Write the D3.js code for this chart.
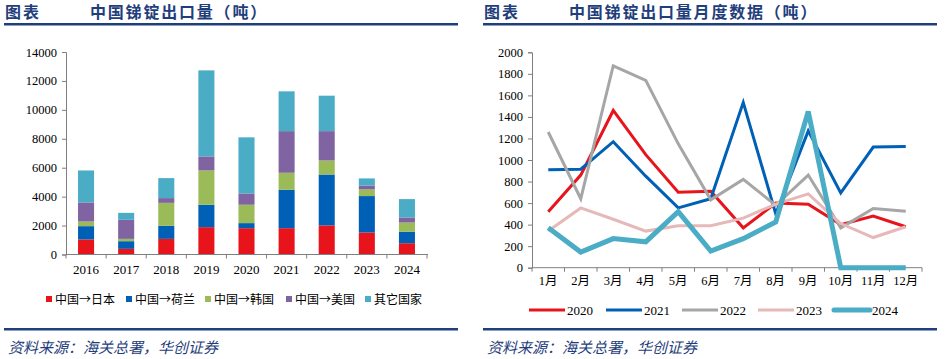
<!DOCTYPE html>
<html><head><meta charset="utf-8">
<script src="https://cdn.jsdelivr.net/npm/d3@7"></script>
<style>
body{margin:0;background:#fff;}
svg{display:block;}
</style></head>
<body>
<svg id="c" width="945" height="359"></svg>
<script>
// ---- Left chart data ----
const years = ["2016","2017","2018","2019","2020","2021","2022","2023","2024"];
const seriesNames = ["中国→日本","中国→荷兰","中国→韩国","中国→美国","其它国家"];
const japan  = [1040, 390, 1080, 1890, 1820, 1820, 2010, 1520, 780];
const nl     = [ 920, 530,  900, 1550,  350, 2650, 3520, 2520, 790];
const korea  = [ 320, 160, 1590, 2370, 1270, 1180,  970,  460, 640];
const usa    = [1320,1320,  330,  970,  780, 2880, 2030,  270, 350];
const others = [2210, 480, 1380, 5950, 3880, 2750, 2450,  490, 1270];
const barColors = ["#E8141C","#0060B6","#9BBB59","#8064A2","#4BACC6"];
const leftTicks = [0,2000,4000,6000,8000,10000,12000,14000];

// ---- Right chart data ----
const months = ["1月","2月","3月","4月","5月","6月","7月","8月","9月","10月","11月","12月"];
const lineNames = ["2020","2021","2022","2023","2024"];
const y2020 = [520, 860,1460,1050, 700, 710, 370, 600, 590, 400, 480, 380];
const y2021 = [910, 915,1170, 850, 555, 640,1535, 500,1270, 695,1120,1125];
const y2022 = [1260,640,1875,1740,1150, 630, 820, 580, 860, 370, 550, 525];
const y2023 = [340, 555, 450, 340, 390, 390, 460, 590, 685, 410, 280, 380];
const y2024 = [370, 145, 270, 240, 520, 155, 270, 425,1450,   0,   0,   0];
const lineColors = ["#E8141C","#0060B6","#A6A6A6","#E6B9B8","#4BACC6"];
const lineWidths = [3,3,3,3,5];
const rightTicks = [0,200,400,600,800,1000,1200,1400,1600,1800,2000];

const svg = d3.select("#c");
const navy = "#1F3E7C";
const axisColor = "#7F7F7F";
const serif = "'Liberation Serif','Times New Roman','Noto Sans CJK SC',serif";
const cjk = "'Noto Sans CJK SC','Noto Sans CJK JP',sans-serif";

// ---- Headers & footers ----
function header(x0, x1, title){
  svg.append("text").attr("x", x0+1).attr("y", 18).text("图表")
    .attr("font-family", cjk).attr("font-weight","bold").attr("font-size",16).attr("fill",navy)
    .attr("letter-spacing", 2);
  svg.append("text").attr("x", x0+86).attr("y", 18).text(title)
    .attr("font-family", cjk).attr("font-weight","bold").attr("font-size",16).attr("fill",navy)
    .attr("letter-spacing", 1.8);
  svg.append("rect").attr("x", x0).attr("y", 23).attr("width", x1-x0).attr("height", 2.5).attr("fill", navy);
  svg.append("rect").attr("x", x0).attr("y", 328).attr("width", x1-x0).attr("height", 2.5).attr("fill", navy);
  svg.append("text").attr("x", x0+4).attr("y", 353).text("资料来源：海关总署，华创证券")
    .attr("font-family", cjk).attr("font-style","italic").attr("font-size",15).attr("fill",navy);
}
header(4, 458, "中国锑锭出口量（吨）");
header(483, 937, "中国锑锭出口量月度数据（吨）");

// ---- Left stacked bar chart ----
const xL = d3.scaleBand().domain(years).range([66, 427]).paddingInner(0.6).paddingOuter(0.3);
const yL = d3.scaleLinear().domain([0,14000]).range([254.5, 52]);
const seriesData = [japan, nl, korea, usa, others];
const rows = years.map((y,i)=>{ const o={year:y}; seriesNames.forEach((n,k)=>o[n]=seriesData[k][i]); return o;});
const stack = d3.stack().keys(seriesNames)(rows);

const gL = svg.append("g");
stack.forEach((layer,k)=>{
  gL.selectAll(null).data(layer).enter().append("rect")
    .attr("x", d=>xL(d.data.year))
    .attr("width", xL.bandwidth())
    .attr("y", d=>yL(d[1]))
    .attr("height", d=>yL(d[0])-yL(d[1]))
    .attr("fill", barColors[k]);
});
// y axis
gL.append("g").attr("transform","translate(66,0)")
  .call(d3.axisLeft(yL).tickValues(leftTicks).tickSize(4).tickPadding(5).tickFormat(d3.format("d")));
// x axis with boundary ticks
const xAxL = gL.append("g").attr("transform","translate(0,254.5)");
xAxL.append("line").attr("x1",66).attr("x2",428).attr("stroke",axisColor);
d3.range(years.length+1).forEach(i=>{
  const x = 66 + i*(361/years.length);
  xAxL.append("line").attr("x1",x).attr("x2",x).attr("y1",0).attr("y2",4).attr("stroke",axisColor);
});
xAxL.selectAll("text.lbl").data(years).enter().append("text").attr("class","lbl")
  .attr("x", d=>xL(d)+xL.bandwidth()/2).attr("y", 19).attr("text-anchor","middle").text(d=>d)
  .attr("font-family", serif).attr("font-size",13).attr("fill","#000");

// legend left
const legL = svg.append("g");
const legLx = [46,126,205,286,365];
seriesNames.forEach((n,k)=>{
  legL.append("rect").attr("x",legLx[k]).attr("y",296).attr("width",6).attr("height",6).attr("fill",barColors[k]);
  legL.append("text").attr("x",legLx[k]+9).attr("y",303.5).text(n)
    .attr("font-family",cjk).attr("font-size",12).attr("fill","#000");
});

// ---- Right line chart ----
const xR = d3.scaleBand().domain(months).range([532, 922]);
const yR = d3.scaleLinear().domain([0,2000]).range([267.7, 52.3]);
const gR = svg.append("g");
gR.append("g").attr("transform","translate(532,0)")
  .call(d3.axisLeft(yR).tickValues(rightTicks).tickSize(4).tickPadding(5).tickFormat(d3.format("d")));
const xAxR = gR.append("g").attr("transform","translate(0,267.7)");
xAxR.append("line").attr("x1",532).attr("x2",922).attr("stroke",axisColor);
months.forEach((m,i)=>{
  const x = xR(m);
  xAxR.append("line").attr("x1",x).attr("x2",x).attr("y1",0).attr("y2",4).attr("stroke",axisColor);
});
xAxR.append("line").attr("x1",922).attr("x2",922).attr("y1",0).attr("y2",4).attr("stroke",axisColor);
xAxR.selectAll("text.lbl").data(months).enter().append("text").attr("class","lbl")
  .attr("x", d=>xR(d)+xR.bandwidth()/2).attr("y", 17.5).attr("text-anchor","middle").text(d=>d)
  .attr("font-family", serif).attr("font-size",12.5).attr("fill","#000");

const lineData = [y2020,y2021,y2022,y2023,y2024];
const line = d3.line().x((d,i)=>xR(months[i])+xR.bandwidth()/2).y(d=>yR(d));
lineData.forEach((arr,k)=>{
  gR.append("path").datum(arr).attr("d",line).attr("fill","none")
    .attr("stroke",lineColors[k]).attr("stroke-width",lineWidths[k]).attr("stroke-linejoin","miter");
});

// legend right
const legRx = [529,606,682,758,834];
lineNames.forEach((n,k)=>{
  svg.append("line").attr("x1",legRx[k]).attr("x2",legRx[k]+36).attr("y1",310).attr("y2",310)
    .attr("stroke",lineColors[k]).attr("stroke-width",lineWidths[k]).attr("stroke-linecap", k===4?"round":"butt");
  svg.append("text").attr("x",legRx[k]+38).attr("y",314.5).text(n)
    .attr("font-family",serif).attr("font-size",13).attr("fill","#000");
});

// axis styling
svg.selectAll(".domain").attr("stroke",axisColor);
svg.selectAll(".tick line").attr("stroke",axisColor);
svg.selectAll(".tick text").attr("font-family",serif).attr("font-size",12.5).attr("fill","#000");
</script>
</body></html>
